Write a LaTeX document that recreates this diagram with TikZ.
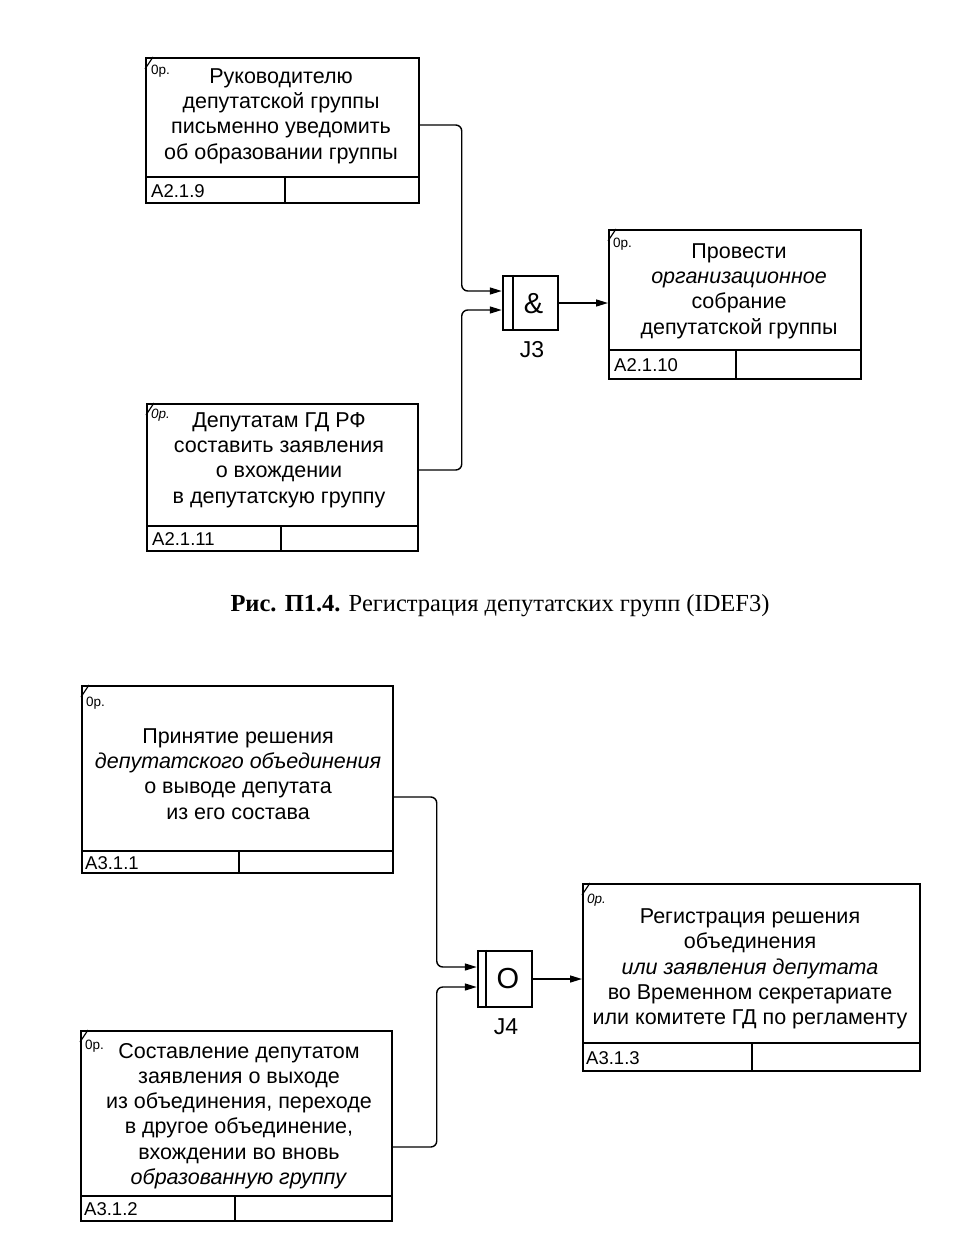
\documentclass[tikz,border=0pt]{standalone}
\usepackage{fontspec}
\setmainfont{Liberation Sans}[FakeBold=0]
\newfontfamily\capfont{Liberation Serif}
\usetikzlibrary{arrows.meta,calc}
\begin{document}
\begin{tikzpicture}[x=1pt,y=-1pt,
  body/.style={draw, line width=2pt, anchor=north west, inner sep=0pt},
  cell/.style={draw, line width=2pt, anchor=north west, inner sep=0pt},
  idtxt/.style={anchor=west, inner sep=0pt, font=\fontsize{18.5}{20}\selectfont},
  txt/.style={align=center, inner sep=0pt, font=\fontsize{21.5}{25.3}\selectfont},
  tag/.style={anchor=north west, inner sep=0pt, font=\fontsize{13.5}{14}\selectfont},
  tick/.style={line width=1.2pt},
  conn/.style={line width=1.4pt, rounded corners=6pt, -{Triangle[length=12pt,width=7pt]}},
  junc/.style={draw, line width=2.5pt, inner sep=0pt},
  jsym/.style={inner sep=0pt, font=\fontsize{29}{30}\selectfont},
  jlab/.style={inner sep=0pt, font=\fontsize{23}{24}\selectfont}]
\useasboundingbox (0,0) rectangle (970,1236);
\fill[white] (0,0) rectangle (970,1236);

% ---------- Box A2.1.9 ----------
\node[body, minimum width=273pt, minimum height=119pt] (b1) at (145,57) {};
\node[cell, minimum width=139pt, minimum height=26pt] (b1a) at (145,176) {};
\node[cell, minimum width=134pt, minimum height=26pt] (b1b) at (284,176) {};
\node[idtxt] (b1id) at ($(b1a.west)+(6,1)$) {A2.1.9};
\node[tag] (b1t) at ($(b1.north west)+(6,8)$) {0р.};
\draw[tick] ($(b1.north west)+(0,12)$) -- ($(b1.north west)+(8,0)$);
\node[txt] (b1x) at (281,116) {Руководителю\\депутатской группы\\письменно уведомить\\об образовании группы};

% ---------- Box A2.1.11 ----------
\node[body, minimum width=271pt, minimum height=122pt] (b2) at (146,403) {};
\node[cell, minimum width=134pt, minimum height=25pt] (b2a) at (146,525) {};
\node[cell, minimum width=137pt, minimum height=25pt] (b2b) at (280,525) {};
\node[idtxt] (b2id) at ($(b2a.west)+(6,1)$) {A2.1.11};
\node[tag] (b2t) at ($(b2.north west)+(5,6)$) {\itshape 0р.};
\draw[tick] ($(b2.north west)+(0,12)$) -- ($(b2.north west)+(8,0)$);
\node[txt] (b2x) at (279,460) {Депутатам ГД РФ\\составить заявления\\о вхождении\\в депутатскую группу};

% ---------- Box A2.1.10 ----------
\node[body, minimum width=252pt, minimum height=120pt] (b3) at (608,229) {};
\node[cell, minimum width=127pt, minimum height=29pt] (b3a) at (608,349) {};
\node[cell, minimum width=125pt, minimum height=29pt] (b3b) at (735,349) {};
\node[idtxt] (b3id) at ($(b3a.west)+(6,1)$) {A2.1.10};
\node[tag] (b3t) at ($(b3.north west)+(5,9)$) {0р.};
\draw[tick] ($(b3.north west)+(0,12)$) -- ($(b3.north west)+(8,0)$);
\node[txt] (b3x) at (739,291) {Провести\\\textit{организационное}\\собрание\\депутатской группы};

% ---------- Junction J3 ----------
\node[junc, minimum width=55pt, minimum height=54pt] (j3) at (530.5,303) {};
\draw[line width=1.8pt] ([xshift=11pt]j3.north west) -- ([xshift=11pt]j3.south west);
\node[jsym] (j3s) at ($(j3.center)+(3,1)$) {\&};
\node[jlab] (j3l) at (532,350) {J3};

\draw[conn] ($(b1.north east)+(0,68)$) -| ($(j3.west)+(-40,-12)$) -- ($(j3.west)+(0,-12)$);
\draw[conn] ($(b2.north east)+(0,67)$) -| ($(j3.west)+(-40,7)$) -- ($(j3.west)+(0,7)$);
\draw[conn] (j3.east) -- (j3.east -| b3.west);

% ---------- Caption ----------
\node[inner sep=0pt, font=\capfont\fontsize{24.5}{28}\selectfont] (cap) at (500,606) {\textbf{Рис. П1.4.} Регистрация депутатских групп (IDEF3)};

% ---------- Box A3.1.1 ----------
\node[body, minimum width=311pt, minimum height=165pt] (b4) at (81,685) {};
\node[cell, minimum width=157pt, minimum height=22pt] (b4a) at (81,850) {};
\node[cell, minimum width=154pt, minimum height=22pt] (b4b) at (238,850) {};
\node[idtxt] (b4id) at ($(b4a.west)+(4,1)$) {A3.1.1};
\node[tag] (b4t) at ($(b4.north west)+(5,12)$) {0р.};
\draw[tick] ($(b4.north west)+(0,12)$) -- ($(b4.north west)+(8,0)$);
\node[txt] (b4x) at (238,774) {Принятие решения\\\textit{депутатского объединения}\\о выводе депутата\\из его состава};

% ---------- Box A3.1.2 ----------
\node[body, minimum width=311pt, minimum height=165pt] (b5) at (80,1030) {};
\node[cell, minimum width=154pt, minimum height=25pt] (b5a) at (80,1195) {};
\node[cell, minimum width=157pt, minimum height=25pt] (b5b) at (234,1195) {};
\node[idtxt] (b5id) at ($(b5a.west)+(4,1)$) {A3.1.2};
\node[tag] (b5t) at ($(b5.north west)+(5,10)$) {0р.};
\draw[tick] ($(b5.north west)+(0,12)$) -- ($(b5.north west)+(8,0)$);
\node[txt] (b5x) at (239,1116) {Составление депутатом\\заявления о выходе\\из объединения, переходе\\в другое объединение,\\вхождении во вновь\\\textit{образованную группу}};

% ---------- Box A3.1.3 ----------
\node[body, minimum width=337pt, minimum height=159pt] (b6) at (582,883) {};
\node[cell, minimum width=169pt, minimum height=28pt] (b6a) at (582,1042) {};
\node[cell, minimum width=168pt, minimum height=28pt] (b6b) at (751,1042) {};
\node[idtxt] (b6id) at ($(b6a.west)+(4,1)$) {A3.1.3};
\node[tag] (b6t) at ($(b6.north west)+(5,11)$) {\itshape 0р.};
\draw[tick] ($(b6.north west)+(0,12)$) -- ($(b6.north west)+(8,0)$);
\node[txt] (b6x) at (750,969) {Регистрация решения\\объединения\\\textit{или заявления депутата}\\во Временном секретариате\\или комитете ГД по регламенту};

% ---------- Junction J4 ----------
\node[junc, minimum width=54pt, minimum height=56pt] (j4) at (505,979) {};
\draw[line width=1.8pt] ([xshift=9pt]j4.north west) -- ([xshift=9pt]j4.south west);
\node[jsym] (j4s) at ($(j4.center)+(3,0)$) {O};
\node[jlab] (j4l) at (506,1027) {J4};

\draw[conn] ($(b4.north east)+(0,112)$) -| ($(j4.west)+(-40,-12)$) -- ($(j4.west)+(0,-12)$);
\draw[conn] ($(b5.north east)+(0,117)$) -| ($(j4.west)+(-40,8)$) -- ($(j4.west)+(0,8)$);
\draw[conn] (j4.east) -- (j4.east -| b6.west);
\end{tikzpicture}
\end{document}
